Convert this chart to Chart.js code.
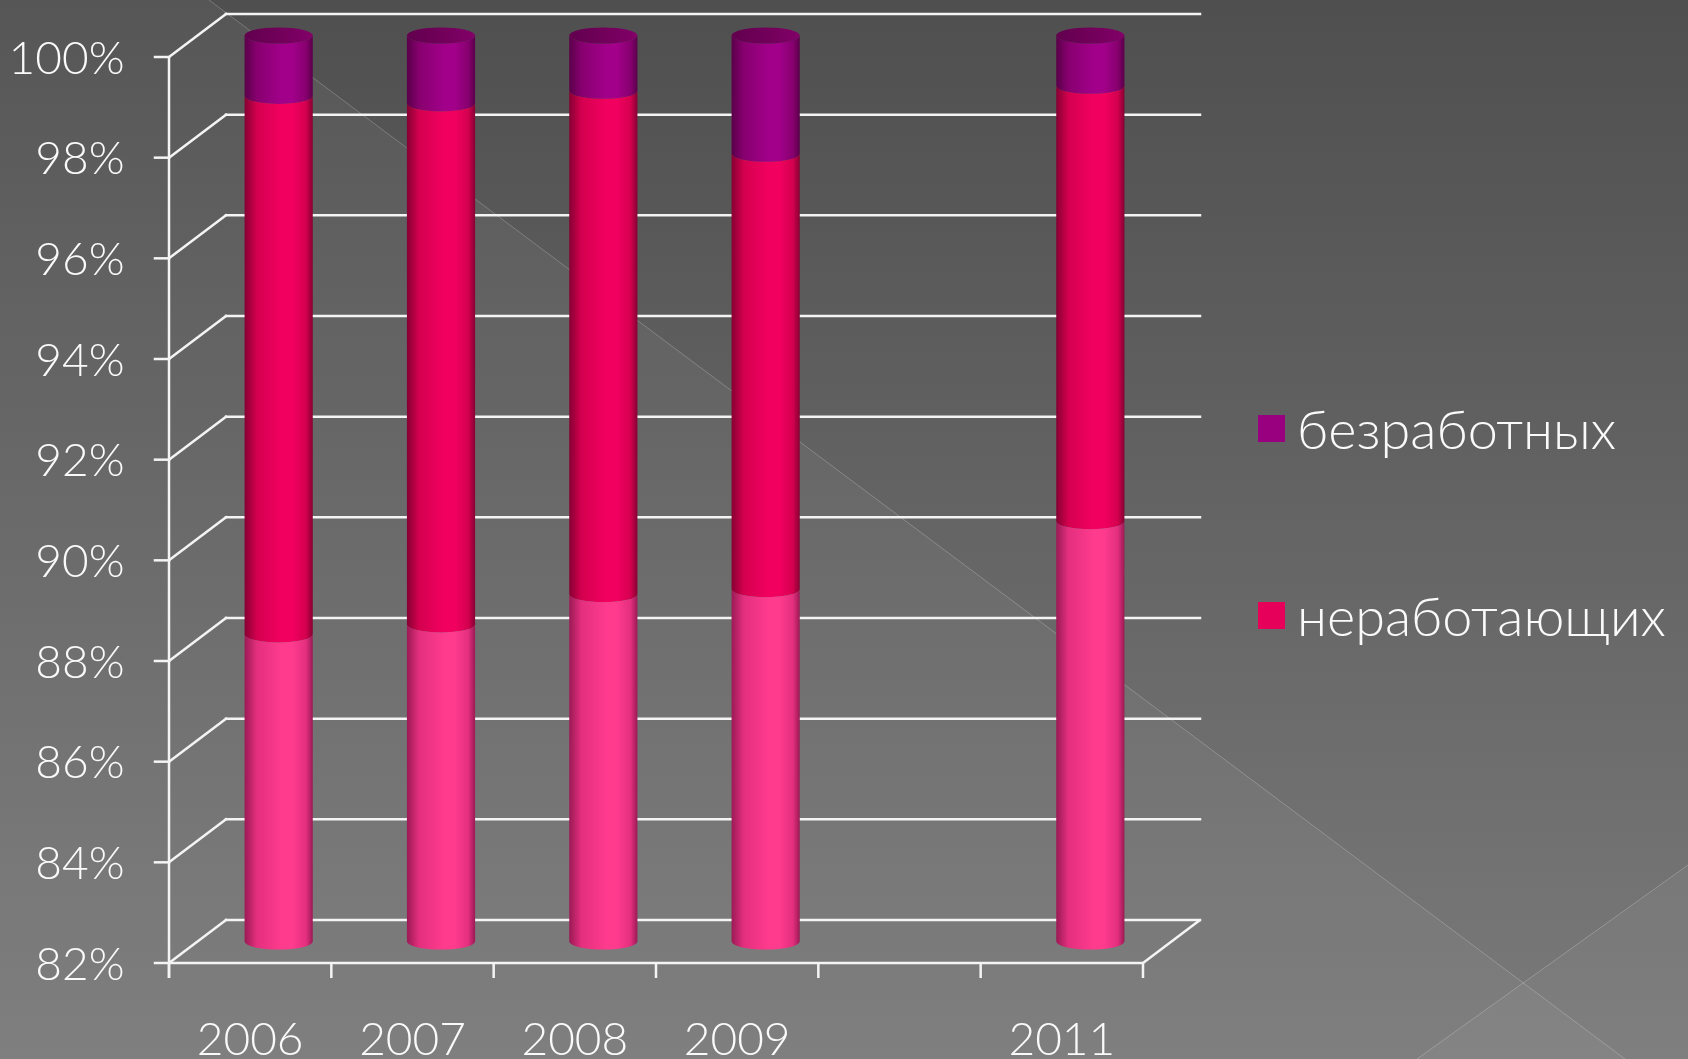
<!DOCTYPE html>
<html lang="ru">
<head>
  <meta charset="UTF-8">
  <title>Структура населения</title>
  <script src="https://cdn.jsdelivr.net/npm/chart.js"></script>
  <style>
    body {
      margin: 0;
      overflow: hidden;
      background: #5a5a5a;
      font-family: Lato, "Liberation Sans", sans-serif;
    }
    .wrap {
      position: relative;
      width: 1688px;
      height: 1059px;
    }
    #chart {
      position: absolute;
      left: 0;
      top: 0;
    }
    .legend {
      position: absolute;
      left: 1258px;
      top: 398px;
      list-style: none;
      margin: 0;
      padding: 0;
    }
    .legend li {
      display: flex;
      align-items: center;
      height: 60px;
      margin-bottom: 127px;
      color: #fafafa;
      font-size: 54px;
      font-weight: 300;
      white-space: nowrap;
    }
    .legend span {
      width: 27px;
      height: 27px;
      display: inline-block;
      margin-right: 12px;
    }
  </style>
</head>
<body>
  <div class="wrap">
    <canvas id="chart" width="1688" height="1059"></canvas>
    <ul class="legend" id="legend"></ul>
  </div>
  <script>
    const categories = ['2006', '2007', '2008', '2009', '', '2011'];
    const working    = [88.1, 88.3, 88.9, 89.0, null, 90.35];
    const notWorking = [10.7, 10.35, 10.0, 8.65, null, 8.65];
    const unemployed = [1.2, 1.35, 1.1, 2.35, null, 1.0];
    const yMin = 82, yMax = 100, yStep = 2;

    // cylinder shading per series: dark edge, mid, highlight
    const shades = [
      { dark: '#9b1a55', mid: '#e42f7e', light: '#ff3b8e' },
      { dark: '#860032', mid: '#d4004f', light: '#f20060' },
      { dark: '#5a0049', mid: '#87006f', light: '#a2008a' }
    ];
    const legendColors = ['#ff3b8e', '#e6005a', '#990080'];
    const capColor = '#74005c';
    const depthX = 28.5, depthY = 21.5;
    const lineColor = '#f4f4f4';
    const tickFont = { family: 'Lato', size: 46, weight: '300' };

    function line(ctx, x1, y1, x2, y2) {
      ctx.beginPath();
      ctx.moveTo(x1, y1);
      ctx.lineTo(x2, y2);
      ctx.stroke();
    }

    const background = {
      id: 'background',
      beforeDraw(chart) {
        const ctx = chart.ctx, w = chart.width, h = chart.height;
        ctx.save();
        const g = ctx.createLinearGradient(0, 0, 0, h);
        g.addColorStop(0, '#4f4f4f');
        g.addColorStop(1, '#7a7a7a');
        ctx.fillStyle = g;
        ctx.fillRect(0, 0, w, h);
        ctx.fillStyle = 'rgba(255,255,255,0.045)';
        ctx.beginPath();
        ctx.moveTo(0, 0); ctx.lineTo(209, 0); ctx.lineTo(1625, h); ctx.lineTo(0, h);
        ctx.closePath(); ctx.fill();
        ctx.beginPath();
        ctx.moveTo(w, 865); ctx.lineTo(1417, h); ctx.lineTo(w, h);
        ctx.closePath(); ctx.fill();
        ctx.strokeStyle = 'rgba(255,255,255,0.22)';
        ctx.lineWidth = 1;
        line(ctx, 209, 0, 1625, h);
        line(ctx, w, 865, 1417, h);
        ctx.restore();
      }
    };

    const frame3d = {
      id: 'frame3d',
      beforeDatasetsDraw(chart) {
        const ctx = chart.ctx;
        const { left, right, top, bottom } = chart.chartArea;
        const ys = chart.scales.y, xs = chart.scales.x;
        ctx.save();
        ctx.strokeStyle = lineColor;
        ctx.lineWidth = 2.5;
        ctx.lineCap = 'square';
        ys.ticks.forEach(t => {
          const y = ys.getPixelForValue(t.value);
          line(ctx, left + depthX, y - depthY, right + depthX, y - depthY);
          line(ctx, left - depthX, y + depthY, left + depthX, y - depthY);
          line(ctx, left - depthX - 14, y + depthY, left - depthX, y + depthY);
        });
        ctx.lineCap = 'butt';
        line(ctx, left - depthX, top + depthY, left - depthX, bottom + depthY + 15);
        line(ctx, left - depthX, bottom + depthY, right - depthX, bottom + depthY);
        line(ctx, right - depthX, bottom + depthY, right + depthX, bottom - depthY);
        for (let i = 0; i <= categories.length; i++) {
          const x = xs.getPixelForValue(i - 0.5) - depthX;
          line(ctx, x, bottom + depthY, x, bottom + depthY + 15);
        }
        ctx.restore();
      },
      beforeDatasetDraw(chart, args) {
        const ctx = chart.ctx;
        const bottom = chart.chartArea.bottom;
        const shade = shades[args.index];
        const data = chart.data.datasets[args.index].data;
        ctx.save();
        args.meta.data.forEach((bar, j) => {
          if (data[j] == null) return;
          const rx = bar.width / 2, ry = 8;
          const x = bar.x;
          const yTop = bar.y;
          const yBase = Math.min(bar.base, bottom);
          const g = ctx.createLinearGradient(x - rx, 0, x + rx, 0);
          g.addColorStop(0, shade.dark);
          g.addColorStop(0.18, shade.mid);
          g.addColorStop(0.55, shade.light);
          g.addColorStop(0.7, shade.light);
          g.addColorStop(0.9, shade.mid);
          g.addColorStop(1, shade.dark);
          ctx.fillStyle = g;
          ctx.beginPath();
          ctx.moveTo(x - rx, yTop);
          ctx.ellipse(x, yTop, rx, ry, 0, Math.PI, 0, true);
          ctx.lineTo(x + rx, yBase);
          ctx.ellipse(x, yBase, rx, ry, 0, 0, Math.PI, false);
          ctx.closePath();
          ctx.fill();
          if (args.index === chart.data.datasets.length - 1) {
            const cg = ctx.createLinearGradient(x - rx, 0, x + rx, 0);
            cg.addColorStop(0, '#62004e');
            cg.addColorStop(0.6, capColor);
            cg.addColorStop(1, '#820068');
            ctx.fillStyle = cg;
            ctx.beginPath();
            ctx.ellipse(x, yTop, rx, ry, 0, 0, Math.PI * 2);
            ctx.fill();
          }
        });
        ctx.restore();
        return false;
      }
    };

    const datasets = [
      { label: 'работающих', data: working, backgroundColor: legendColors[0], showInLegend: false },
      { label: 'неработающих', data: notWorking, backgroundColor: legendColors[1], showInLegend: true },
      { label: 'безработных', data: unemployed, backgroundColor: legendColors[2], showInLegend: true }
    ];

    new Chart(document.getElementById('chart'), {
      type: 'bar',
      data: { labels: categories, datasets: datasets },
      options: {
        responsive: false,
        animation: false,
        layout: { padding: { top: 35.5, right: 516.5, left: 0, bottom: 0 } },
        datasets: { bar: { categoryPercentage: 1, barPercentage: 0.42 } },
        plugins: { legend: { display: false }, tooltip: { enabled: false } },
        scales: {
          x: {
            stacked: true,
            grid: { display: false },
            border: { display: false },
            ticks: {
              color: '#fafafa',
              font: tickFont,
              labelOffset: -depthX,
              padding: 63,
              maxRotation: 0,
              autoSkip: false
            },
            afterFit(scale) {
              scale.height = 117.5;
              scale.paddingLeft = 0;
              scale.paddingRight = 0;
            }
          },
          y: {
            stacked: true,
            min: yMin,
            max: yMax,
            grid: { display: false },
            border: { display: false },
            ticks: {
              stepSize: yStep,
              color: '#fafafa',
              font: tickFont,
              padding: 65,
              labelOffset: depthY + 2,
              callback: v => v + '%'
            },
            afterFit(scale) {
              scale.width = 197.5;
              scale.paddingTop = 0;
              scale.paddingBottom = 0;
            }
          }
        }
      },
      plugins: [background, frame3d]
    });

    const legendEl = document.getElementById('legend');
    legendEl.innerHTML = datasets.slice().reverse()
      .filter(d => d.showInLegend)
      .map(d => `<li><span style="background-color: ${d.backgroundColor}"></span>${d.label}</li>`)
      .join('');
  </script>
</body>
</html>
